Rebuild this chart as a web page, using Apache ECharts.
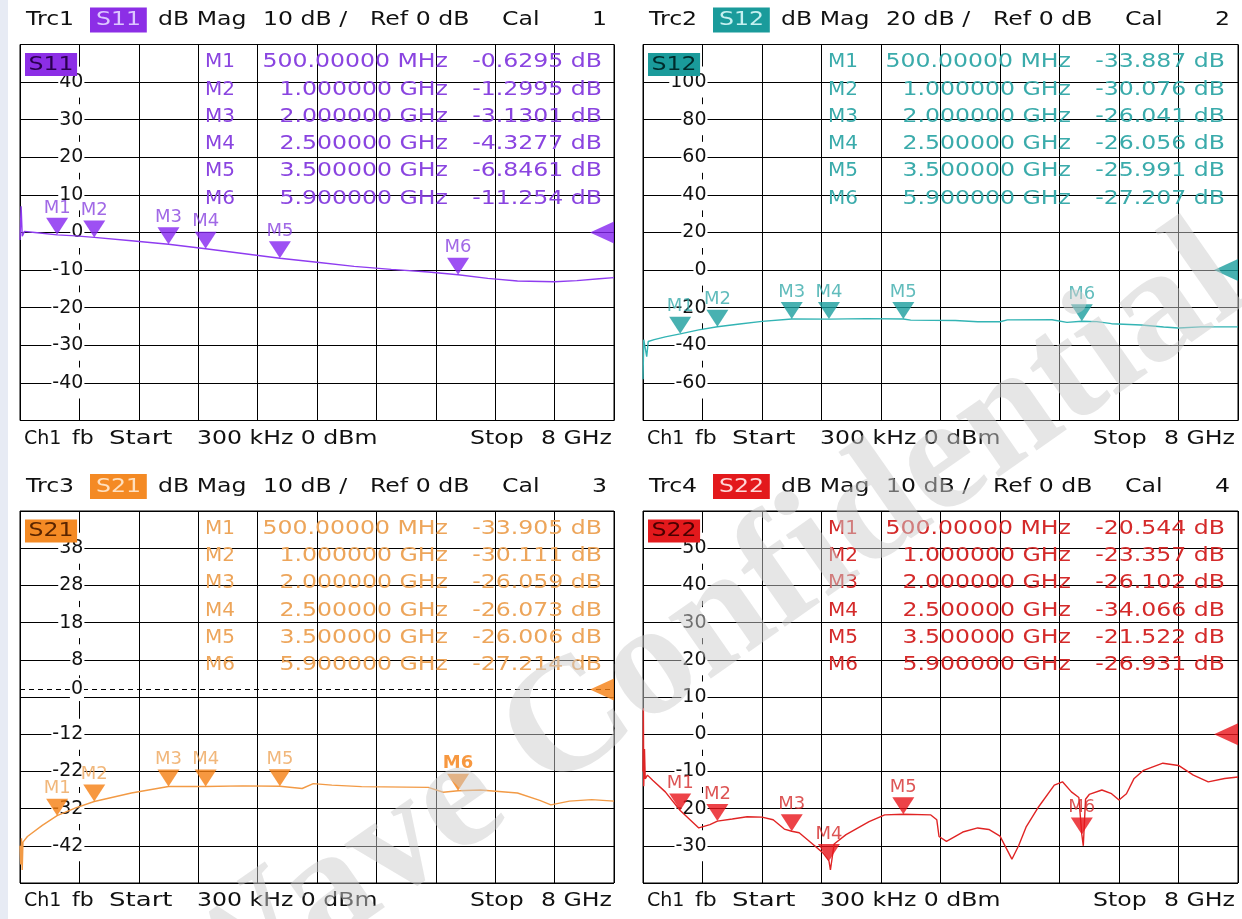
<!DOCTYPE html>
<html>
<head>
<meta charset="utf-8">
<script src="https://cdn.jsdelivr.net/npm/echarts@6/dist/echarts.min.js"></script>
<style>
  html, body { margin: 0; padding: 0; background: #fff; }
  #chart { width: 1242px; height: 919px; }
</style>
</head>
<body>
<div id="chart"></div>
<script>
// ---- trace data (frequency in GHz, level in dB) ----
const s11Freq = [0.0003, 0.015, 0.03, 0.06, 0.2, 0.5, 0.75, 1.0, 1.5, 2.0, 2.5, 3.0, 3.5, 4.0, 4.5, 5.0, 5.5, 5.9, 6.3, 6.7, 7.2, 7.5, 7.8, 8.0];
const s11Val  = [-2, 7, -1, 0.3, 0, -0.63, -0.9, -1.3, -2.2, -3.13, -4.33, -5.6, -6.85, -7.9, -9.0, -9.8, -10.5, -11.25, -12.2, -12.9, -13.1, -12.8, -12.3, -12.0];

const s12Freq = [0.0003, 0.01, 0.03, 0.05, 0.07, 0.15, 0.3, 0.5, 0.75, 1.0, 1.3, 1.6, 2.0, 2.5, 3.0, 3.5, 3.6, 4.2, 4.5, 4.8, 4.9, 5.5, 5.7, 5.9, 6.1, 6.3, 6.7, 7.0, 7.2, 7.5, 8.0];
const s12Val  = [-58, -37, -38, -46, -38, -37, -35.5, -33.9, -31.8, -30.1, -28.7, -27.3, -26.0, -26.06, -25.8, -26.0, -26.6, -26.8, -27.5, -27.5, -26.5, -26.4, -27.8, -27.2, -27.4, -28.5, -29.2, -30.3, -30.8, -30.2, -30.2];

const s21Freq = [0.0003, 0.01, 0.02, 0.03, 0.04, 0.1, 0.3, 0.5, 0.75, 1.0, 1.5, 2.0, 2.5, 3.0, 3.5, 3.8, 3.95, 4.2, 4.6, 5.5, 5.7, 5.9, 6.2, 6.7, 7.0, 7.15, 7.4, 7.7, 8.0];
const s21Val  = [-42, -47, -40, -48.5, -41, -39.5, -36.5, -33.9, -31.8, -30.1, -27.8, -26.06, -26.07, -25.9, -26.0, -26.6, -25.3, -25.7, -26.1, -26.3, -27.6, -27.2, -27.0, -27.8, -29.8, -31.0, -30.0, -29.6, -30.0];

const s22Freq = [0.0003, 0.005, 0.01, 0.02, 0.03, 0.06, 0.13, 0.3, 0.5, 0.75, 0.9, 1.0, 1.2, 1.4, 1.6, 1.75, 1.9, 2.0, 2.1, 2.26, 2.42, 2.5, 2.52, 2.57, 2.73, 3.04, 3.25, 3.5, 3.87, 3.95, 3.98, 4.08, 4.3, 4.5, 4.65, 4.8, 4.96, 5.05, 5.15, 5.32, 5.53, 5.64, 5.76, 5.86, 5.9, 5.92, 5.95, 6.0, 6.17, 6.3, 6.4, 6.5, 6.6, 6.73, 6.99, 7.2, 7.4, 7.6, 7.82, 8.0];
const s22Val  = [-10, 7, -14, -4, -12, -11, -12.4, -15.5, -20.5, -25.2, -24.3, -23.36, -22.8, -22.2, -22.3, -23, -25.5, -26.1, -26.5, -29.2, -31.9, -34.07, -36.5, -29.5, -27, -23.5, -21.7, -21.5, -21.7, -23, -27.5, -28.8, -26.3, -25.2, -25.6, -27.4, -33.6, -30, -25, -19.5, -13.7, -12.8, -15.5, -17, -26.93, -30, -17.5, -16.2, -15, -16, -17.7, -16, -12, -9.7, -7.8, -8.4, -11, -12.8, -11.9, -11.5];

// ---- markers ----
const markerNames = ['M1', 'M2', 'M3', 'M4', 'M5', 'M6'];
const markerFreq  = [0.5, 1.0, 2.0, 2.5, 3.5, 5.9];
const s11Markers = [-0.6295, -1.2995, -3.1301, -4.3277, -6.8461, -11.254];
const s12Markers = [-33.887, -30.076, -26.041, -26.056, -25.991, -27.207];
const s21Markers = [-33.905, -30.111, -26.059, -26.073, -26.006, -27.214];
const s22Markers = [-20.544, -23.357, -26.102, -34.066, -21.522, -26.931];

// ---- axis scales [min, max, step] ----
const s11Axis = [-50, 50, 10];
const s12Axis = [-80, 120, 20];
const s21Axis = [-52, 48, 10];
const s22Axis = [-40, 60, 10];

const FONT = '"DejaVu Sans", sans-serif';
const SX = 1.18;

const panels = [
  { trc: 'Trc1', name: 'S11', scale: '10 dB /', num: '1', freq: s11Freq, vals: s11Val, mk: s11Markers, axis: s11Axis,
    bg: '#8c2ee6', head: '#dcc6ff', dark: '#2a0050', line: '#8f3cf0', mark: '#8424f0', txt: '#8a44e0',
    left: 20, top: 44.5, width: 594, height: 376 },
  { trc: 'Trc2', name: 'S12', scale: '20 dB /', num: '2', freq: s12Freq, vals: s12Val, mk: s12Markers, axis: s12Axis,
    bg: '#1a9b9b', head: '#c6f0f0', dark: '#002c2c', line: '#33b4b4', mark: '#1a9e9e', txt: '#3aabab',
    left: 643, top: 44.5, width: 595, height: 376 },
  { trc: 'Trc3', name: 'S21', scale: '10 dB /', num: '3', freq: s21Freq, vals: s21Val, mk: s21Markers, axis: s21Axis,
    bg: '#f48a24', head: '#ffe0bf', dark: '#5a2500', line: '#f29a45', mark: '#f57e10', txt: '#eda55a',
    left: 20, top: 511, width: 594, height: 372, refLine: true, boldMarker: 5 },
  { trc: 'Trc4', name: 'S22', scale: '10 dB /', num: '4', freq: s22Freq, vals: s22Val, mk: s22Markers, axis: s22Axis,
    bg: '#e3191c', head: '#ffd6d6', dark: '#4a0000', line: '#e02424', mark: '#e8141a', txt: '#d42a2a',
    left: 643, top: 511, width: 595, height: 372 }
];

function fmtFreq(f) {
  return f < 1 ? (f * 1000).toFixed(5) + ' MHz' : f.toFixed(6) + ' GHz';
}

function txt(x, y, text, opts, sx) {
  return {
    type: 'text', x: x, y: y, scaleX: sx || SX, z: 50,
    style: Object.assign({
      text: text, fontSize: 20, fontFamily: FONT, fill: '#111',
      align: 'left', textAlign: 'left', verticalAlign: 'middle', textVerticalAlign: 'middle'
    }, opts || {})
  };
}

const grids = [], xAxes = [], yAxes = [], series = [], graphics = [];

graphics.push({ type: 'rect', shape: { x: 0, y: 0, width: 8, height: 919 }, style: { fill: '#e7ebf4' }, z: 1 });

panels.forEach((p, i) => {
  grids.push({ left: p.left, top: p.top, width: p.width, height: p.height,
    show: true, borderColor: '#000', borderWidth: 1, backgroundColor: 'transparent' });
  xAxes.push({ type: 'value', gridIndex: i, min: 0, max: 8, interval: 0.8,
    axisLine: { show: false }, axisTick: { show: false }, axisLabel: { show: false },
    splitLine: { show: true, lineStyle: { color: '#000', width: 1 } } });
  const hide = p.refLine ? -2 : null;
  yAxes.push({ type: 'value', gridIndex: i, min: p.axis[0], max: p.axis[1], interval: p.axis[2],
    offset: -p.width / 10,
    axisLine: { show: false }, axisTick: { show: false },
    splitLine: { show: true, lineStyle: { color: '#000', width: 1 } },
    axisLabel: { showMinLabel: false, showMaxLabel: false, margin: -5,
      formatter: v => (v === hide ? '' : '{b|' + v + '}'),
      rich: { b: { backgroundColor: '#fff', padding: [6, 1, 6, 1], fontSize: 19, fontFamily: FONT, color: '#111' } } } });

  const lineSeries = {
    type: 'line', xAxisIndex: i, yAxisIndex: i, showSymbol: false, symbol: 'none',
    data: p.freq.map((f, k) => [f, p.vals[k]]),
    lineStyle: { color: p.line, width: 1.4 }, z: 3, animation: false
  };
  if (p.refLine) {
    lineSeries.markLine = {
      silent: true, symbol: 'none', animation: false,
      lineStyle: { color: '#000', type: [5, 4], width: 1 },
      label: { show: true, position: 'start', distance: -64, formatter: '0',
        backgroundColor: '#fff', padding: [2, 1], fontSize: 19, fontFamily: FONT, color: '#111' },
      data: [{ yAxis: 0 }]
    };
  }
  series.push(lineSeries);

  series.push({
    type: 'scatter', xAxisIndex: i, yAxisIndex: i, z: 5, animation: false,
    symbol: 'path://M0,0 L22,0 L11,17 Z', symbolSize: [22, 17], symbolOffset: [0, -8.5],
    itemStyle: { color: p.mark },
    label: { show: true, position: 'top', distance: 1, formatter: '{b}',
      color: p.txt, fontSize: 18, fontFamily: FONT },
    data: markerFreq.map((f, k) => ({ name: markerNames[k], value: [f, p.mk[k]],
      label: k === p.boldMarker ? { fontWeight: 'bold', color: p.mark } : undefined }))
  });

  // reference level arrow on the right edge
  series.push({
    type: 'scatter', xAxisIndex: i, yAxisIndex: i, z: 5, animation: false, clip: false,
    symbol: 'path://M24,0 L24,22 L0,11 Z', symbolSize: [24, 22], symbolOffset: [-12, 0],
    itemStyle: { color: p.mark }, data: [[8, 0]]
  });

  // header line
  const dx = p.left - 20;
  const hy = p.top - 24.5;
  graphics.push(txt(26 + dx, hy, p.trc));
  graphics.push(txt(90 + dx, hy, p.name, { fill: p.head, backgroundColor: p.bg, padding: [3, 5, 2, 5] }));
  graphics.push(txt(158 + dx, hy, 'dB Mag'));
  graphics.push(txt(263 + dx, hy, p.scale));
  graphics.push(txt(370 + dx, hy, 'Ref 0 dB'));
  graphics.push(txt(502 + dx, hy, 'Cal'));
  graphics.push(txt(607 + dx, hy, p.num, { align: 'right', textAlign: 'right' }));

  // trace name inside the diagram
  graphics.push(txt(25 + dx, p.top + 20, p.name, { fill: p.dark, backgroundColor: p.bg, padding: [2, 3, 1, 3] }));

  // marker table
  markerNames.forEach((m, k) => {
    const ry = p.top + 17.5 + k * 27.3;
    graphics.push(txt(205 + dx, ry, m, { fill: p.txt }, 1.0));
    graphics.push(txt(448 + dx, ry, fmtFreq(markerFreq[k]), { fill: p.txt, align: 'right', textAlign: 'right' }));
    graphics.push(txt(602 + dx, ry, String(p.mk[k]) + ' dB', { fill: p.txt, align: 'right', textAlign: 'right' }));
  });

  // footer line
  const fy = p.top + p.height + 18;
  graphics.push(txt(24 + dx, fy, 'Ch1', null, 0.95));
  graphics.push(txt(72 + dx, fy, 'fb', null, 1.1));
  graphics.push(txt(109 + dx, fy, 'Start', null, 1.3));
  graphics.push(txt(197 + dx, fy, '300 kHz 0 dBm'));
  graphics.push(txt(470 + dx, fy, 'Stop'));
  graphics.push(txt(612 + dx, fy, '8 GHz', { align: 'right', textAlign: 'right' }));
});

// watermark
graphics.push({
  type: 'text', x: 700, y: 635, rotation: 35 * Math.PI / 180, z: 100, silent: true,
  style: { text: 'Wave Confidential', font: 'bold 162px "Liberation Serif", serif',
    fill: 'rgba(205,205,205,0.5)', align: 'center', textAlign: 'center',
    verticalAlign: 'middle', textVerticalAlign: 'middle' }
});

const chart = echarts.init(document.getElementById('chart'));
chart.setOption({
  backgroundColor: '#fff',
  animation: false,
  grid: grids,
  xAxis: xAxes,
  yAxis: yAxes,
  series: series,
  graphic: { elements: graphics }
});
</script>
</body>
</html>
